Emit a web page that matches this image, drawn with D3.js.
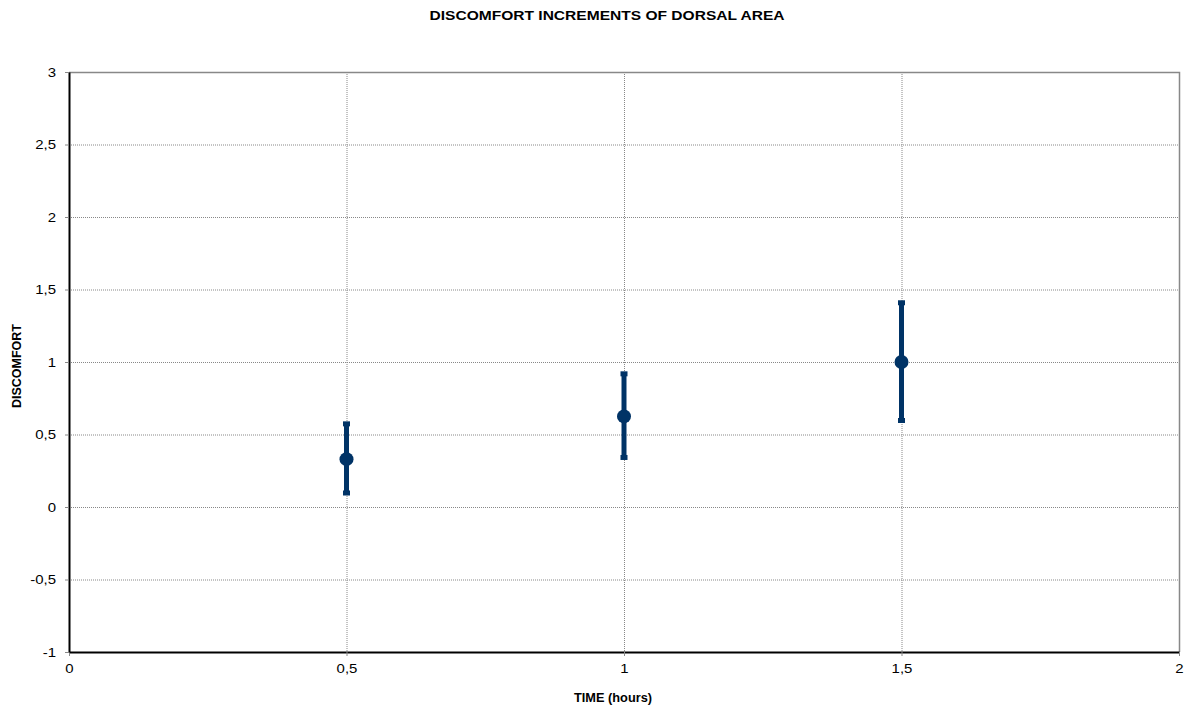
<!DOCTYPE html>
<html>
<head>
<meta charset="utf-8" />
<title>Discomfort increments of dorsal area</title>
<style>
    body { margin: 0; background: #fff; }
    text { font-family: "Liberation Sans", Arial, sans-serif; }
</style>
</head>
<body>
<div id="container"></div>
<script src="https://cdn.jsdelivr.net/npm/d3@7"></script>
<script>
    const times = [0.5, 1, 1.5]
    const means = [0.33, 0.625, 1.0]
    const errLow = [0.10, 0.345, 0.60]
    const errHigh = [0.57, 0.915, 1.405]
    const xTicks = [0, 0.5, 1, 1.5, 2]
    const yTicks = [-1, -0.5, 0, 0.5, 1, 1.5, 2, 2.5, 3]

    const W = 1187, H = 710
    const margin = { top: 72, right: 8, bottom: 58, left: 69 }
    const width = W - margin.left - margin.right
    const height = H - margin.top - margin.bottom
    const color = '#003366'
    const fmt = d => String(d).replace('.', ',')

    // the original text is a little wider than Arial, stretch it
    const stretch = (sel, k) => sel.each(function () {
        const len = this.getComputedTextLength()
        d3.select(this).attr('textLength', len * k).attr('lengthAdjust', 'spacingAndGlyphs')
    })

    const svg = d3.select('#container').append('svg').attr('width', W).attr('height', H)
    const chart = svg.append('g').attr('transform', `translate(${margin.left}, ${margin.top})`)

    const x = d3.scaleLinear().domain([0, 2]).range([0, width])
    const y = d3.scaleLinear().domain([-1, 3]).range([height, 0])

    // grid
    chart.append('g').selectAll('line').data(yTicks.slice(1, -1)).join('line')
        .attr('x1', 0).attr('x2', width)
        .attr('y1', d => y(d) + 0.5).attr('y2', d => y(d) + 0.5)
        .attr('stroke', '#888').attr('stroke-dasharray', '1,1')
    chart.append('g').selectAll('line').data(xTicks.slice(1, -1)).join('line')
        .attr('y1', 0).attr('y2', height)
        .attr('x1', d => x(d) + 0.5).attr('x2', d => x(d) + 0.5)
        .attr('stroke', '#888').attr('stroke-dasharray', '1,1')

    // plot border top / right
    chart.append('path')
        .attr('d', `M0,0.5H${width + 0.5}V${height}`)
        .attr('fill', 'none').attr('stroke', '#888').attr('stroke-width', 1.5)

    const axisX = d3.axisBottom(x).tickValues(xTicks).tickFormat(fmt).tickSize(4).tickSizeOuter(0)
    const axisY = d3.axisLeft(y).tickValues(yTicks).tickFormat(fmt).tickSize(4).tickSizeOuter(0)

    const gx = chart.append('g').attr('transform', `translate(0, ${height})`).call(axisX)
    const gy = chart.append('g').call(axisY)
    gx.selectAll('.tick line').attr('stroke', '#888')
    gy.selectAll('.tick line').attr('stroke', '#888')
    gx.select('.domain').attr('stroke', '#000').attr('stroke-width', 2)
    gy.select('.domain').attr('stroke', '#000').attr('stroke-width', 2)
    gx.selectAll('text').attr('font-size', 13).attr('fill', '#000').attr('y', 8).attr('dy', '1em')
    gy.selectAll('text').attr('font-size', 13).attr('fill', '#000').attr('x', -13)
    stretch(gx.selectAll('text'), 1.15)
    stretch(gy.selectAll('text'), 1.15)

    // error bars
    const pts = times.map((t, i) => ({ t, m: means[i], lo: errLow[i], hi: errHigh[i] }))
    const eb = chart.append('g')
    eb.selectAll('line.bar').data(pts).join('line').attr('class', 'bar')
        .attr('x1', d => x(d.t)).attr('x2', d => x(d.t))
        .attr('y1', d => y(d.lo)).attr('y2', d => y(d.hi))
        .attr('stroke', color).attr('stroke-width', 5)
    eb.selectAll('rect.capTop').data(pts).join('rect').attr('class', 'capTop')
        .attr('x', d => x(d.t) - 3.5).attr('y', d => y(d.hi) - 3)
        .attr('width', 7).attr('height', 5).attr('fill', color)
    eb.selectAll('rect.capBot').data(pts).join('rect').attr('class', 'capBot')
        .attr('x', d => x(d.t) - 3.5).attr('y', d => y(d.lo) - 2)
        .attr('width', 7).attr('height', 5).attr('fill', color)
    eb.selectAll('circle').data(pts).join('circle')
        .attr('cx', d => x(d.t)).attr('cy', d => y(d.m)).attr('r', 7)
        .attr('fill', color)

    // titles
    svg.append('text').attr('x', 607).attr('y', 20).attr('text-anchor', 'middle')
        .attr('font-size', 13).attr('font-weight', 'bold')
        .attr('textLength', 355).attr('lengthAdjust', 'spacingAndGlyphs')
        .text('DISCOMFORT INCREMENTS OF DORSAL AREA')
    svg.append('text').attr('x', 613).attr('y', 702).attr('text-anchor', 'middle')
        .attr('font-size', 12).attr('font-weight', 'bold')
        .attr('textLength', 78).attr('lengthAdjust', 'spacingAndGlyphs')
        .text('TIME (hours)')
    svg.append('text').attr('transform', `translate(21, 366) rotate(-90)`)
        .attr('text-anchor', 'middle').attr('font-size', 12).attr('font-weight', 'bold')
        .attr('textLength', 84).attr('lengthAdjust', 'spacingAndGlyphs')
        .text('DISCOMFORT')
</script>
</body>
</html>
